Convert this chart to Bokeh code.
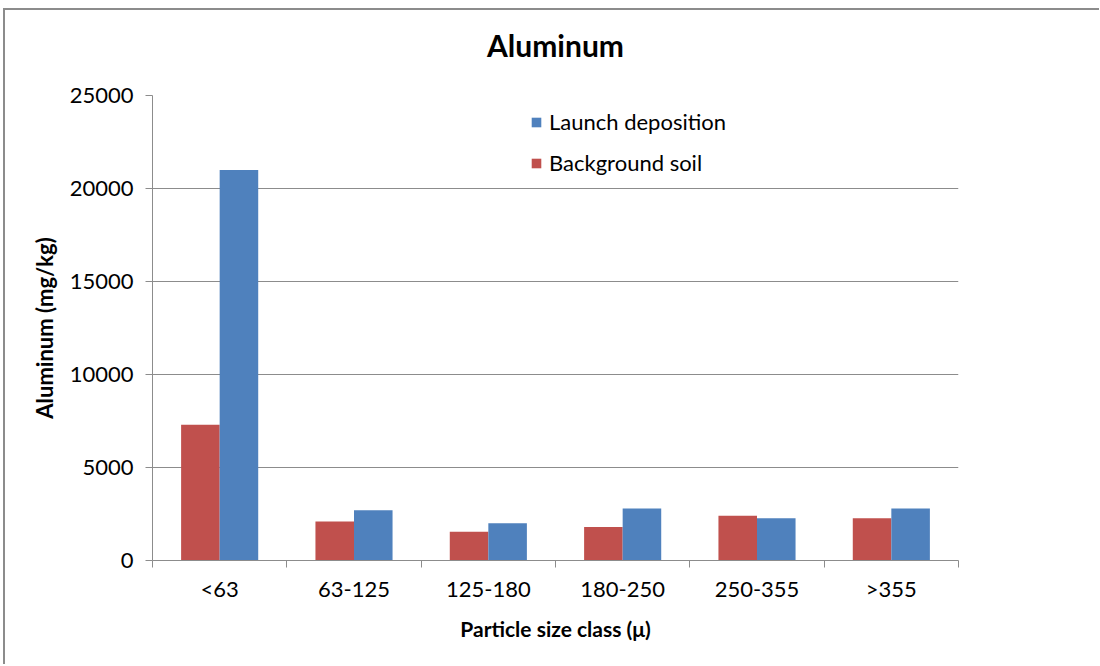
from bokeh.plotting import figure
from bokeh.models import FixedTicker, Range1d, Legend, LegendItem, ColumnDataSource, Title
from bokeh.embed import file_html
from bokeh.resources import INLINE

categories = ["<63", "63-125", "125-180", "180-250", "250-355", ">355"]
background_soil = [7300, 2100, 1550, 1800, 2400, 2270]
launch_deposition = [21000, 2700, 2000, 2800, 2270, 2800]
y_ticks = [0, 5000, 10000, 15000, 20000, 25000]

RED = "#C0504D"
BLUE = "#4F81BD"
GRID = "#8c8c8c"
FONT = "Lato"

bar_w = 0.287
idx = list(range(len(categories)))
src = ColumnDataSource(dict(
    xr=[i + 0.5 - bar_w / 2 for i in idx],
    xb=[i + 0.5 + bar_w / 2 for i in idx],
    bg=background_soil,
    ld=launch_deposition,
))

p = figure(frame_width=806, frame_height=465,
           min_border_left=147, min_border_top=85,
           min_border_right=141, min_border_bottom=104,
           x_range=Range1d(0, len(categories)), y_range=Range1d(0, 25000),
           output_backend="svg", toolbar_location=None)
p.styles = {"border-left": "2px solid #8c8c8c", "border-top": "2px solid #8c8c8c",
            "border-right": "none", "border-bottom": "none",
            "outline": "none", "box-shadow": "none",
            "margin-left": "3px", "margin-top": "8px"}

# spacer (closest to the frame), then the chart title above it
p.add_layout(Title(text=" ", text_font_size="2px", standoff=24), "above")
p.add_layout(Title(text="Aluminum", align="center", text_font=FONT,
                   text_font_size="30px", text_font_style="bold",
                   text_color="#000000", standoff=10), "above")

r_bg = p.vbar(x="xr", top="bg", width=bar_w, source=src, fill_color=RED, line_color=None)
r_ld = p.vbar(x="xb", top="ld", width=bar_w, source=src, fill_color=BLUE, line_color=None)

# y axis
p.yaxis.ticker = FixedTicker(ticks=y_ticks)
p.yaxis.axis_label = "Aluminum (mg/kg)"
p.yaxis.axis_label_text_font = FONT
p.yaxis.axis_label_text_font_size = "22px"
p.yaxis.axis_label_text_font_style = "bold"
p.yaxis.axis_label_text_color = "#000000"
p.yaxis.axis_label_standoff = 9
p.yaxis.major_label_text_font = FONT
p.yaxis.major_label_text_font_size = "22px"
p.yaxis.major_label_text_color = "#000000"
p.yaxis.major_label_standoff = 12
p.yaxis.major_tick_out = 7
p.yaxis.major_tick_in = 0
p.yaxis.minor_tick_out = 0
p.yaxis.minor_tick_in = 0
p.yaxis.axis_line_color = GRID
p.yaxis.major_tick_line_color = GRID
p.yaxis[0].formatter.use_scientific = False

# x axis: labels at centres, tick marks at boundaries
p.xaxis.ticker = FixedTicker(ticks=[i + 0.5 for i in idx],
                             minor_ticks=list(range(len(categories) + 1)))
p.xaxis.major_label_overrides = {i + 0.5: c for i, c in enumerate(categories)}
p.xaxis.major_tick_out = 0
p.xaxis.major_tick_in = 0
p.xaxis.minor_tick_out = 7
p.xaxis.minor_tick_in = 0
p.xaxis.minor_tick_line_color = GRID
p.xaxis.axis_line_color = GRID
p.xaxis.major_label_text_font = FONT
p.xaxis.major_label_text_font_size = "22px"
p.xaxis.major_label_text_color = "#000000"
p.xaxis.major_label_standoff = 7
p.xaxis.axis_label = "Particle size class (\u03bc)"
p.xaxis.axis_label_text_font = FONT
p.xaxis.axis_label_text_font_size = "21px"
p.xaxis.axis_label_text_font_style = "bold"
p.xaxis.axis_label_text_color = "#000000"
p.xaxis.axis_label_standoff = 11

p.xgrid.grid_line_color = None
p.ygrid.grid_line_color = GRID
p.ygrid.grid_line_width = 1
p.outline_line_color = None

legend = Legend(items=[LegendItem(label="Launch deposition", renderers=[r_ld]),
                       LegendItem(label="Background soil", renderers=[r_bg])],
                location=(378, 384))
legend.padding = 0
legend.margin = 0
legend.border_line_color = None
legend.background_fill_alpha = 0
legend.glyph_width = 12
legend.glyph_height = 12
legend.label_standoff = 7
legend.spacing = 14
legend.label_text_font = FONT
legend.label_text_font_size = "22px"
legend.label_text_color = "#000000"
p.add_layout(legend)

open("out.html", "w").write(file_html(p, INLINE))
